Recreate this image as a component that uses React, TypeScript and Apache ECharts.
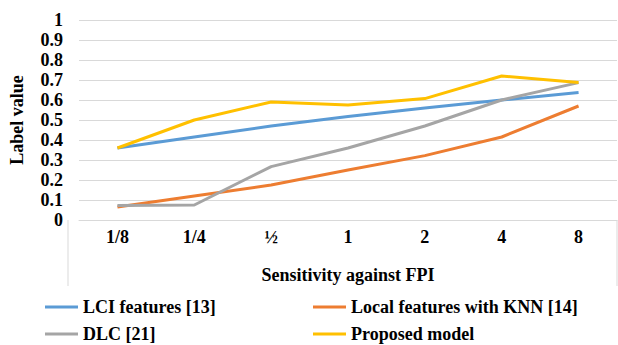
import React, { useEffect, useRef } from "react";
import * as echarts from "echarts";

const categories = ["1/8", "1/4", "½", "1", "2", "4", "8"];
const lciFeatures = [0.36, 0.415, 0.47, 0.517, 0.56, 0.6, 0.637];
const localKnn = [0.065, 0.12, 0.175, 0.25, 0.322, 0.415, 0.57];
const dlc = [0.072, 0.075, 0.267, 0.36, 0.47, 0.6, 0.687];
const proposed = [0.36, 0.5, 0.59, 0.575, 0.607, 0.72, 0.687];
const seriesNames = ["LCI features [13]", "Local features with KNN [14]", "DLC [21]", "Proposed model"];
const colors = ["#5B9BD5", "#ED7D31", "#A5A5A5", "#FFC000"];

const FONT = "Liberation Serif";

const legendPos = [
  { left: 45, top: 298 },
  { left: 313, top: 298 },
  { left: 45, top: 325 },
  { left: 313, top: 325 },
];

export default function App() {
  const ref = useRef<HTMLDivElement>(null);
  useEffect(() => {
    if (!ref.current) return;
    const chart = echarts.init(ref.current, undefined, { renderer: "svg" });
    const data = [lciFeatures, localKnn, dlc, proposed];
    const legendText = { fontFamily: FONT, fontWeight: "bold", fontSize: 18, color: "#000" };
    chart.setOption({
      animation: false,
      textStyle: { fontFamily: FONT },
      grid: { left: 68, right: 1, top: 20, height: 200 },
      legend: seriesNames.map((name, i) => ({
        data: [name],
        left: legendPos[i].left,
        top: legendPos[i].top,
        itemWidth: 33,
        itemHeight: 14,
        icon: "path://M0,6 L33,6 L33,9 L0,9 Z",
        textStyle: legendText,
        padding: 0,
      })),
      xAxis: {
        type: "category",
        data: categories,
        boundaryGap: true,
        axisLine: { lineStyle: { color: "#d9d9d9", width: 1 } },
        axisTick: { show: false },
        axisLabel: { fontFamily: FONT, fontWeight: "bold", fontSize: 18, color: "#000", margin: 8 },
        name: "Sensitivity against FPI",
        nameLocation: "middle",
        nameGap: 46,
        nameTextStyle: { fontFamily: FONT, fontWeight: "bold", fontSize: 18, color: "#000" },
      },
      yAxis: {
        type: "value",
        min: 0,
        max: 1,
        interval: 0.1,
        axisLine: { show: false },
        axisTick: { show: false },
        splitLine: { lineStyle: { color: "#d9d9d9", width: 1 } },
        axisLabel: {
          fontFamily: FONT,
          fontWeight: "bold",
          fontSize: 18,
          color: "#000",
          margin: 16,
          formatter: (v: number) => String(Math.round(v * 10) / 10),
        },
        name: "Label value",
        nameLocation: "middle",
        nameGap: 53,
        nameTextStyle: { fontFamily: FONT, fontWeight: "bold", fontSize: 18, color: "#000" },
      },
      graphic: [
        { type: "line", shape: { x1: 68, y1: 220, x2: 68, y2: 286 }, style: { stroke: "#d9d9d9", lineWidth: 1 } },
        { type: "line", shape: { x1: 617, y1: 220, x2: 617, y2: 286 }, style: { stroke: "#d9d9d9", lineWidth: 1 } },
      ],
      series: seriesNames.map((name, i) => ({
        name,
        type: "line",
        data: data[i],
        symbol: "none",
        lineStyle: { color: colors[i], width: 3 },
        itemStyle: { color: colors[i] },
      })),
    });
    return () => chart.dispose();
  }, []);
  return (
    <div
      ref={ref}
      style={{ position: "absolute", left: 0, top: 0, width: 618, height: 345, background: "#fff" }}
    />
  );
}
